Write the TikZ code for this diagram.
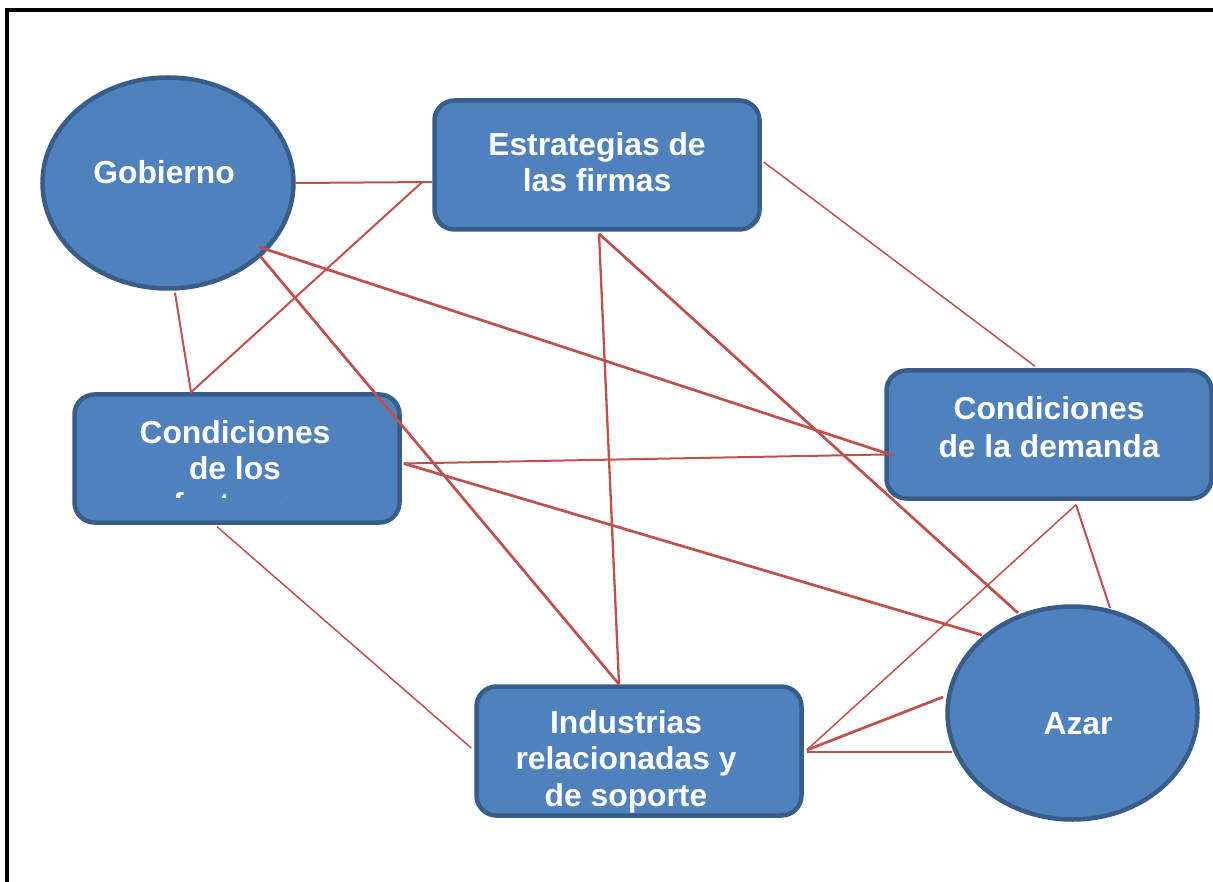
\documentclass[tikz,border=0pt]{standalone}
\usepackage{fontspec}
\setmainfont{Liberation Sans}
\usetikzlibrary{shapes.geometric,calc}
\definecolor{fillblue}{HTML}{4F81BD}
\definecolor{edgeblue}{HTML}{385D8A}
\definecolor{linkred}{HTML}{C0504D}
\begin{document}
\begin{tikzpicture}[x=1pt,y=-1pt,
 oval/.style={ellipse,draw=edgeblue,fill=fillblue,line width=4.5pt,inner sep=0pt},
 card/.style={rectangle,rounded corners=20pt,draw=edgeblue,fill=fillblue,line width=4.5pt,inner sep=0pt,minimum width=325pt,minimum height=129pt},
 lbl/.style={text=white,font=\fontsize{31.8}{36}\selectfont\bfseries,anchor=base,inner sep=0pt},
 link/.style={draw=linkred,line width=#1},
 link/.default=2pt]
\useasboundingbox (0,0) rectangle (1213,882);
\draw[line width=3.5pt] (1213,10) -- (7,10) -- (7,882);
% shapes
\node[oval,minimum width=251pt,minimum height=211pt] (gob) at (168,183) {};
\node[oval,minimum width=250pt,minimum height=213pt] (azar) at (1072.5,713) {};
\node[card] (est) at (597,165) {};
\node[card,minimum height=128pt] (fac) at (237,458.5) {};
\node[card,minimum height=128pt] (dem) at (1049,434.5) {};
\node[card] (ind) at (639,751) {};
% connectors
\draw[link=2pt] (gob.east) -- ($(est.west)+(0,17)$);
\draw[link=2pt] ($(est.west)+(-10,17)$) -- ($(fac.north)+(-46,0)$);
\draw[link=2pt] ($(gob.south)+(7,2)$) -- ($(fac.north)+(-46,0)$);
\draw[link=2.7pt] ($(gob.center)+(91,64)$) -- ($(dem.west)+(9,21)$);
\draw[link=2.7pt] ($(gob.center)+(92,73)$) -- ($(ind.north)+(-20,0)$);
\draw[link=2.3pt] ($(est.south)+(2,2)$) -- ($(ind.north)+(-20,0)$);
\draw[link=2.7pt] ($(est.south)+(2,2)$) -- ($(azar.center)+(-54.5,-100)$);
\draw[link=1.5pt] ($(est.east)+(2,-3)$) -- ($(dem.north)+(-14,-2)$);
\draw[link=2pt] ($(fac.east)+(2,5)$) -- ($(dem.west)+(0,20)$);
\draw[link=2.7pt] ($(fac.east)+(2,5)$) -- ($(azar.center)+(-90.5,-78)$);
\draw[link=1.5pt] ($(fac.south)+(-20,2)$) -- ($(ind.west)+(-3,-3)$);
\draw[link=1.5pt] ($(dem.south)+(27,4)$) -- ($(ind.east)+(3,-1)$);
\draw[link=2pt] ($(dem.south)+(27,4)$) -- ($(azar.center)+(37.5,-105)$);
\draw[link=2.7pt] ($(ind.east)+(3,-1)$) -- ($(azar.center)+(-129.5,-16)$);
\draw[link=2pt] ($(ind.east)+(3,1)$) -- ($(azar.center)+(-120.5,39)$);
% texts
\node[lbl] (tgob) at (164,184) {Gobierno};
\node[lbl] (test1) at (597,156) {Estrategias de};
\node[lbl] (test2) at (597,192) {las firmas};
\node[lbl] (tfac1) at (235,443) {Condiciones};
\node[lbl] (tfac2) at (235,479) {de los};
\begin{scope}
\clip (0,0) rectangle (1213,497);
\node[lbl] (tfac3) at (235,515) {factores};
\end{scope}
\node[lbl] (tdem1) at (1049,420) {Condiciones};
\node[lbl] (tdem2) at (1049,457) {de la demanda};
\node[lbl] (tind1) at (626,733) {Industrias};
\node[lbl] (tind2) at (626,769) {relacionadas y};
\node[lbl] (tind3) at (626,806) {de soporte};
\node[lbl] (tazar) at (1078,734) {Azar};
\end{tikzpicture}
\end{document}
